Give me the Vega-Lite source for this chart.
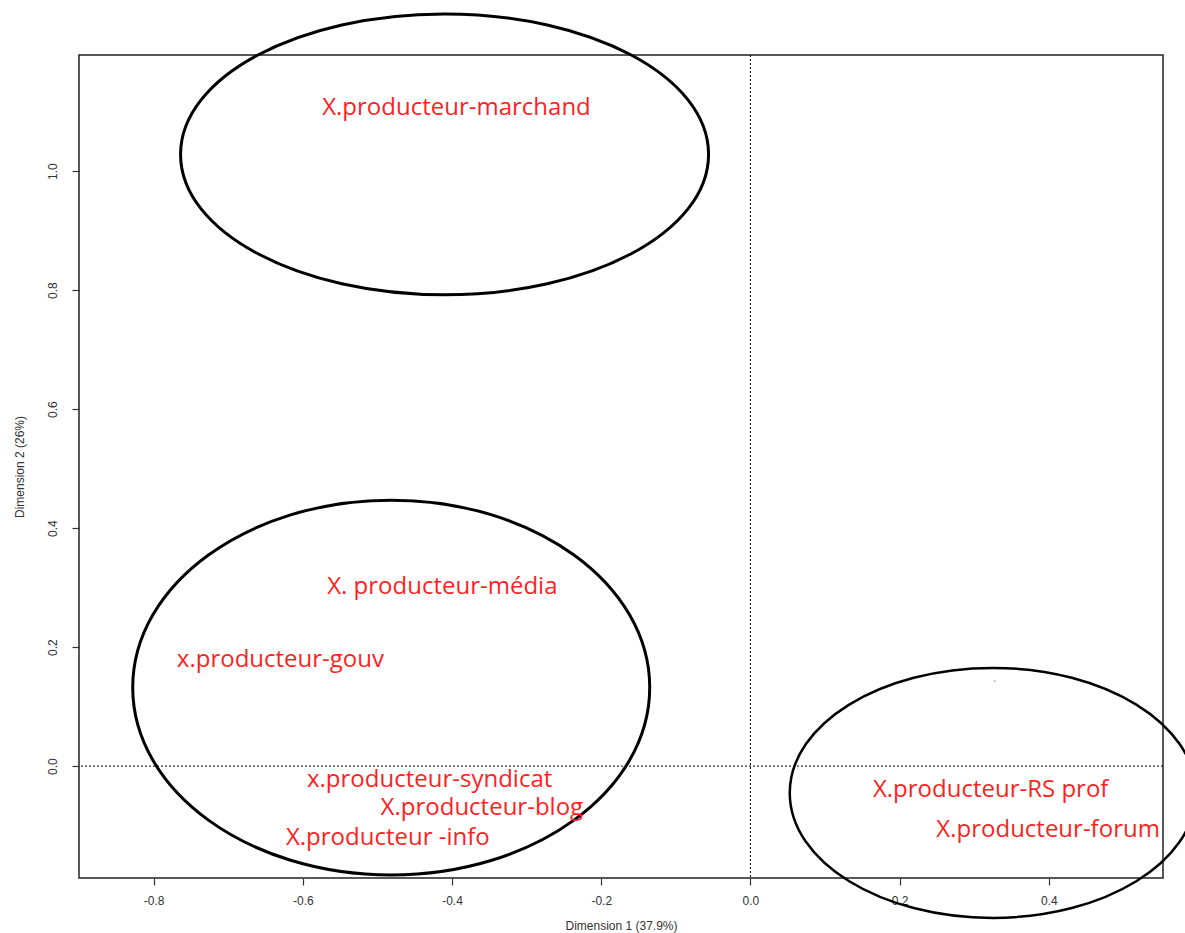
{
  "$schema": "https://vega.github.io/schema/vega-lite/v6.json",
  "width": 1084,
  "height": 823,
  "autosize": {"type": "none"},
  "padding": {"left": 79, "top": 55, "right": 22, "bottom": 55},
  "background": "white",
  "config": {
    "locale": {"number": {"decimal": ".", "thousands": ",", "grouping": [3], "currency": ["", ""], "minus": "-"}},
    "view": {"stroke": "#222222", "strokeWidth": 1.5},
    "axis": {
      "grid": false,
      "domain": false,
      "tickSize": 7,
      "tickColor": "#333333",
      "tickWidth": 1.2,
      "labelFont": "Liberation Sans",
      "labelFontSize": 12,
      "labelColor": "#333333",
      "titleFont": "Liberation Sans",
      "titleFontSize": 12,
      "titleFontWeight": "normal",
      "titleColor": "#333333"
    }
  },
  "datasets": {
    "labels": [
      {"label": "X.producteur-marchand", "x": -0.394, "y": 1.106},
      {"label": "X. producteur-média", "x": -0.413, "y": 0.301},
      {"label": "x.producteur-gouv", "x": -0.630, "y": 0.178},
      {"label": "x.producteur-syndicat", "x": -0.430, "y": -0.0235},
      {"label": "X.producteur-blog", "x": -0.360, "y": -0.0706},
      {"label": "X.producteur -info", "x": -0.486, "y": -0.121},
      {"label": "X.producteur-RS prof", "x": 0.322, "y": -0.040},
      {"label": "X.producteur-forum", "x": 0.399, "y": -0.108}
    ],
    "ellipses": [
      {"id": 1, "x": -0.410, "y": 1.028},
      {"id": 2, "x": -0.4815, "y": 0.132},
      {"id": 3, "x": 0.3248, "y": -0.045}
    ]
  },
  "layer": [
    {
      "data": {"values": [{"x": 0}]},
      "mark": {"type": "rule", "color": "#000000", "strokeWidth": 1, "strokeDash": [2, 2]},
      "encoding": {
        "x": {
          "field": "x", "type": "quantitative",
          "scale": {"domain": [-0.9, 0.553], "nice": false, "zero": false},
          "axis": {
            "title": "Dimension 1 (37.9%)",
            "values": [-0.8, -0.6, -0.4, -0.2, 0, 0.2, 0.4],
            "format": ".1f",
            "labelPadding": 10,
            "titlePadding": 14
          }
        }
      }
    },
    {
      "data": {"values": [{"y": 0}]},
      "mark": {"type": "rule", "color": "#000000", "strokeWidth": 1, "strokeDash": [2, 2]},
      "encoding": {
        "y": {
          "field": "y", "type": "quantitative",
          "scale": {"domain": [-0.188, 1.195], "nice": false, "zero": false},
          "axis": {
            "title": "Dimension 2 (26%)",
            "values": [0, 0.2, 0.4, 0.6, 0.8, 1.0],
            "format": ".1f",
            "labelAngle": -90,
            "labelAlign": "center",
            "labelBaseline": "bottom",
            "labelPadding": 13,
            "titlePadding": 20
          }
        }
      }
    },
    {
      "data": {"name": "ellipses"},
      "transform": [{"filter": "datum.id == 1"}],
      "mark": {
        "type": "point", "filled": false, "stroke": "#000000", "strokeWidth": 3, "opacity": 1,
        "size": 278784,
        "shape": "M-1,0C-1,-0.294,-0.5523,-0.532,0,-0.532C0.5523,-0.532,1,-0.294,1,0C1,0.294,0.5523,0.532,0,0.532C-0.5523,0.532,-1,0.294,-1,0Z"
      },
      "encoding": {
        "x": {"field": "x", "type": "quantitative"},
        "y": {"field": "y", "type": "quantitative"}
      }
    },
    {
      "data": {"name": "ellipses"},
      "transform": [{"filter": "datum.id == 2"}],
      "mark": {
        "type": "point", "filled": false, "stroke": "#000000", "strokeWidth": 3, "opacity": 1,
        "size": 267289,
        "shape": "M-1,0C-1,-0.4006,-0.5523,-0.725,0,-0.725C0.5523,-0.725,1,-0.4006,1,0C1,0.4006,0.5523,0.725,0,0.725C-0.5523,0.725,-1,0.4006,-1,0Z"
      },
      "encoding": {
        "x": {"field": "x", "type": "quantitative"},
        "y": {"field": "y", "type": "quantitative"}
      }
    },
    {
      "data": {"name": "ellipses"},
      "transform": [{"filter": "datum.id == 3"}],
      "mark": {
        "type": "point", "filled": false, "stroke": "#000000", "strokeWidth": 2.5, "opacity": 1,
        "size": 164836,
        "shape": "M-1,0C-1,-0.3393,-0.5523,-0.6158,0,-0.6158C0.5523,-0.6158,1,-0.3393,1,0C1,0.3393,0.5523,0.6158,0,0.6158C-0.5523,0.6158,-1,0.3393,-1,0Z"
      },
      "encoding": {
        "x": {"field": "x", "type": "quantitative"},
        "y": {"field": "y", "type": "quantitative"}
      }
    },
    {
      "data": {"values": [{"x": 0.3275, "y": 0.143}]},
      "mark": {"type": "point", "filled": true, "color": "#b09080", "size": 3, "opacity": 1},
      "encoding": {
        "x": {"field": "x", "type": "quantitative"},
        "y": {"field": "y", "type": "quantitative"}
      }
    },
    {
      "data": {"name": "labels"},
      "mark": {
        "type": "text", "font": "Open Sans", "fontSize": 24, "fontWeight": 500, "color": "#ff1f1f",
        "align": "center", "baseline": "middle"
      },
      "encoding": {
        "x": {"field": "x", "type": "quantitative"},
        "y": {"field": "y", "type": "quantitative"},
        "text": {"field": "label"}
      }
    }
  ]
}
